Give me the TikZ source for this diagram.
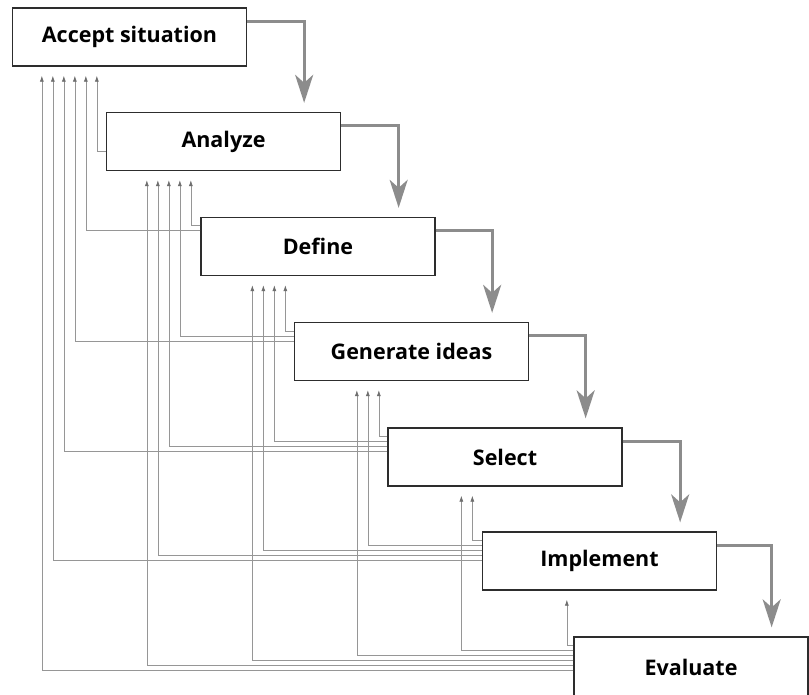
\documentclass[tikz,border=0pt]{standalone}
\usepackage{fontspec}
\setmainfont{Open Sans}
\usetikzlibrary{arrows.meta,calc}
\definecolor{boxline}{RGB}{45,45,45}
\definecolor{flowgray}{RGB}{140,140,140}
\definecolor{fbgray}{RGB}{150,150,150}
\definecolor{fbtip}{RGB}{110,110,110}
\tikzset{
  stagebox/.style={draw=boxline, line width=1.3pt, fill=white, minimum width=234pt, minimum height=58pt, inner sep=0pt, font=\fontsize{21.5}{25}\selectfont\bfseries, text=black},
  flowarrow/.style={draw=flowgray, line width=3pt, -{Stealth[length=28pt,width=18pt,inset=8pt]}, shorten >=9pt},
  fbline/.style={draw=fbgray, line width=0.7pt, -{Latex[length=6pt,width=4pt,color=fbtip]}, shorten >=9pt}
}
\begin{document}
\begin{tikzpicture}[x=1pt,y=-1pt]
\fill[white] (0,0) rectangle (809,695);
\useasboundingbox (0,0) rectangle (809,695);

% stage boxes
\node[stagebox] (n1) at (129.5,37) {Accept situation};
\node[stagebox] (n2) at (223.5,141.5) {Analyze};
\node[stagebox] (n3) at (318,246.5) {Define};
\node[stagebox] (n4) at (411.5,351.5) {Generate ideas};
\node[stagebox] (n5) at (505,457) {Select};
\node[stagebox] (n6) at (599.5,561) {Implement};
\node[stagebox, minimum height=60pt] (n7) at (691,667) {Evaluate};

% feedback lines
\foreach \j in {2,...,7}{
  \pgfmathtruncatemacro{\jm}{\j-1}
  \foreach \i in {1,...,\jm}{
    \pgfmathsetmacro{\dy}{9+5*(\j-1-\i)}
    \ifnum\j=2 \def\dy{40}\fi
    \pgfmathsetmacro{\dx}{85-11*(\j-\i-1)}
    \draw[fbline] ([yshift=-\dy pt]n\j.north west) -| ([xshift=\dx pt]n\i.south west);
  }
}

% main flow arrows
\foreach \a/\b in {n1/n2,n2/n3,n3/n4,n4/n5,n5/n6,n6/n7}{
  \draw[flowarrow] ([yshift=-14pt]\a.north east) -| ([xshift=-37pt]\b.north east);
}
\end{tikzpicture}
\end{document}
